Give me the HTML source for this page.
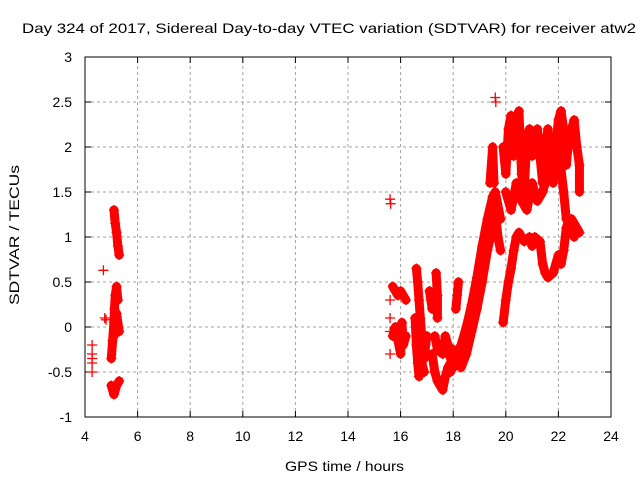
<!DOCTYPE html>
<html><head><meta charset="utf-8"><style>
body{margin:0;background:#fff}
svg{display:block;font-family:"Liberation Sans",sans-serif}
</style></head><body>
<svg id="chart" width="640" height="480">
<text x="22" y="33" font-size="14" textLength="614" lengthAdjust="spacingAndGlyphs">Day 324 of 2017, Sidereal Day-to-day VTEC variation (SDTVAR) for receiver atw2</text>
<text x="285" y="471" font-size="14" textLength="119" lengthAdjust="spacingAndGlyphs">GPS time / hours</text>
<text transform="translate(19,305) rotate(-90)" font-size="14" textLength="140" lengthAdjust="spacingAndGlyphs">SDTVAR / TECUs</text>
<g id="grid"></g>
<g id="ticks"></g>
<g id="marks"></g>
<rect x="85" y="57" width="526" height="360" fill="none" stroke="#000" stroke-width="1"/>
</svg>
<script>
const xTicks=[4,6,8,10,12,14,16,18,20,22,24];
const yTicks=[-1,-0.5,0,0.5,1,1.5,2,2.5,3];
const yTickLabels=["-1","-0.5","0","0.5","1","1.5","2","2.5","3"];
// tracks: x hours, y TECU
const t1x=[4.27,4.27,4.27,4.27,4.27];const t1y=[-0.2,-0.3,-0.35,-0.4,-0.5];
const t2x=[4.7,4.75,4.8];const t2y=[0.63,0.1,0.08];
const t3x=[5.0,5.05,5.1,5.12,5.15,5.2,5.25];const t3y=[-0.35,-0.15,0.05,0.2,0.35,0.45,0.3];
const t4x=[5.1,5.15,5.2,5.25,5.3];const t4y=[1.3,1.15,1.05,0.9,0.8];
const t5x=[5.1,5.15,5.2,5.3];const t5y=[-0.1,0.0,0.15,-0.05];
const t6x=[5.0,5.1,5.15,5.2,5.3];const t6y=[-0.65,-0.75,-0.7,-0.65,-0.6];
const t7x=[15.6,15.62];const t7y=[1.42,1.37];
const d1x=[15.7,15.8,15.9,16.0,16.1,16.2];const d1y=[0.45,0.4,0.35,0.4,0.35,0.3];
const d2x=[15.7,15.8,15.9,16.0,16.05,16.1,16.2];const d2y=[-0.1,0.0,-0.15,-0.3,0.05,-0.2,-0.1];
const d3x=[15.6,15.6,15.6,15.6];const d3y=[0.3,0.1,-0.05,-0.3];
const c1x=[16.6,16.65,16.7,16.75,16.8,16.85,16.9,16.95,17.0];const c1y=[0.65,0.5,0.3,0.1,-0.1,-0.25,-0.35,-0.2,-0.1];
const c2x=[16.55,16.6,16.65,16.7,16.8,16.9];const c2y=[0.1,-0.2,-0.4,-0.55,-0.4,-0.5];
const e1x=[17.1,17.15,17.2];const e1y=[0.4,0.3,0.2];
const e2x=[17.35,17.4,17.4];const e2y=[0.6,0.35,0.1];
const b1x=[17.2,17.3,17.4,17.5,17.6,17.7,17.8,17.9,18.0,18.2,18.3];const b1y=[-0.3,-0.5,-0.6,-0.65,-0.7,-0.55,-0.45,-0.4,-0.45,-0.4,-0.3];
const b2x=[17.3,17.4,17.6,17.7,17.8,17.9,18.0];const b2y=[-0.1,-0.25,-0.3,-0.1,-0.2,-0.35,-0.25];
const s1x=[18.1,18.15,18.2];const s1y=[0.2,0.35,0.5];
const r1x=[17.9,18.1,18.3,18.5,18.7,18.9,19.1,19.3,19.5,19.6,19.8];const r1y=[-0.5,-0.35,-0.2,0.0,0.25,0.55,0.9,1.2,1.45,1.5,1.2];
const r2x=[18.3,18.5,18.7,18.9,19.1,19.3,19.5,19.6,19.7,19.8];const r2y=[-0.45,-0.3,-0.05,0.2,0.5,0.85,1.1,1.3,1.0,0.85];
const p1x=[19.4,19.5,19.55];const p1y=[1.6,2.0,1.6];
const p2x=[19.6,19.62];const p2y=[2.55,2.5];
const u1x=[19.9,20.0,20.1,20.2,20.3,20.4,20.5,20.6,20.7,20.8,20.9,21.0,21.1,21.2,21.3,21.4,21.5,21.6,21.7,21.8,21.9,22.0,22.1,22.2,22.3,22.4,22.5,22.6,22.7,22.8,22.8];
const u1y=[2.0,1.7,2.2,2.35,1.9,2.3,2.4,1.7,1.5,2.1,2.2,1.9,2.0,2.2,1.9,1.6,2.0,2.2,1.8,1.6,2.0,2.3,2.4,2.2,1.8,2.1,2.2,2.3,2.0,1.8,1.5];
const u2x=[20.0,20.2,20.4,20.6,20.8,21.0,21.2,21.4,21.6,21.8,22.0,22.2,22.3,22.5,22.7,22.8];
const u2y=[1.5,1.3,1.6,1.4,1.3,1.6,1.4,1.5,1.7,1.9,2.0,1.5,1.2,1.2,1.1,1.05];
const l1x=[19.9,20.0,20.1,20.2,20.3,20.4,20.5,20.7,20.9,21.0,21.1,21.3,21.4,21.5,21.6,21.8,22.0,22.1,22.2,22.3,22.4,22.6];
const l1y=[0.05,0.3,0.5,0.65,0.85,1.0,1.05,0.95,1.0,0.9,1.0,0.95,0.7,0.6,0.55,0.6,0.8,0.7,0.85,1.1,1.2,1.0];
const tracks=[[t1x,t1y],[t2x,t2y],[t3x,t3y],[t4x,t4y],[t5x,t5y],[t6x,t6y],[t7x,t7y],[d1x,d1y],[d2x,d2y],[d3x,d3y],[c1x,c1y],[c2x,c2y],[e1x,e1y],[e2x,e2y],[b1x,b1y],[b2x,b2y],[s1x,s1y],[r1x,r1y],[r2x,r2y],[p1x,p1y],[p2x,p2y],[u1x,u1y],[u2x,u2y],[l1x,l1y]];
const connected=[false,false,true,true,true,true,false,true,true,false,true,true,true,true,true,true,true,true,true,true,false,true,true,true];

const X0=85,X1=611,Y0=417,Y1=57;
const sx=v=>X0+(v-4)/(24-4)*(X1-X0);
const sy=v=>Y0-(v+1)/(3+1)*(Y0-Y1);
const NS="http://www.w3.org/2000/svg";
function mk(tag,parent,attrs){const e=document.createElementNS(NS,tag);for(const k in attrs)e.setAttribute(k,attrs[k]);parent.appendChild(e);return e;}
const grid=document.getElementById('grid'),ticks=document.getElementById('ticks'),marks=document.getElementById('marks');
xTicks.forEach((t,i)=>{
  const x=sx(t);
  if(i>0&&i<xTicks.length-1){const g=mk('line',grid,{x1:x,x2:x,y1:Y0,y2:Y1,stroke:'#a0a0a0','stroke-dasharray':'3,3'});
  
  }
  mk('line',ticks,{x1:x,x2:x,y1:Y0,y2:Y0-6,stroke:'#000'});
  mk('line',ticks,{x1:x,x2:x,y1:Y1,y2:Y1+6,stroke:'#000'});
  const l=mk('text',ticks,{x:x,y:Y0+24,'font-size':14,'text-anchor':'middle'});l.textContent=t;
  
  
});
yTicks.forEach((t,i)=>{
  const y=sy(t);
  if(i>0&&i<yTicks.length-1){const g=mk('line',grid,{x1:X0,x2:X1,y1:y,y2:y,stroke:'#a0a0a0','stroke-dasharray':'3,3'});
  
  }
  mk('line',ticks,{x1:X0,x2:X0+6,y1:y,y2:y,stroke:'#000'});
  mk('line',ticks,{x1:X1,x2:X1-6,y1:y,y2:y,stroke:'#000'});
  const l=mk('text',ticks,{x:X0-13,y:y+5,'font-size':14,'text-anchor':'end'});l.textContent=yTickLabels[i];
  
  
});
tracks.forEach((tr,k)=>{
  const xs=tr[0],ys=tr[1];
  if(connected[k]&&xs.length>1){
    const pts=xs.map((x,i)=>sx(x)+','+sy(ys[i])).join(' ');
    const pl=mk('polyline',marks,{points:pts,fill:'none',stroke:'#f00','stroke-width':9,'stroke-linejoin':'round','stroke-linecap':'round'});
    
    
  }
  xs.forEach((x,i)=>{
    const px=sx(x),py=sy(ys[i]);
    const p=mk('path',marks,{d:`M${px-5},${py}H${px+5}M${px},${py-5}V${py+5}`,stroke:'#f00','stroke-width':1.3});
    
    
  });
});
</script>
</body></html>
